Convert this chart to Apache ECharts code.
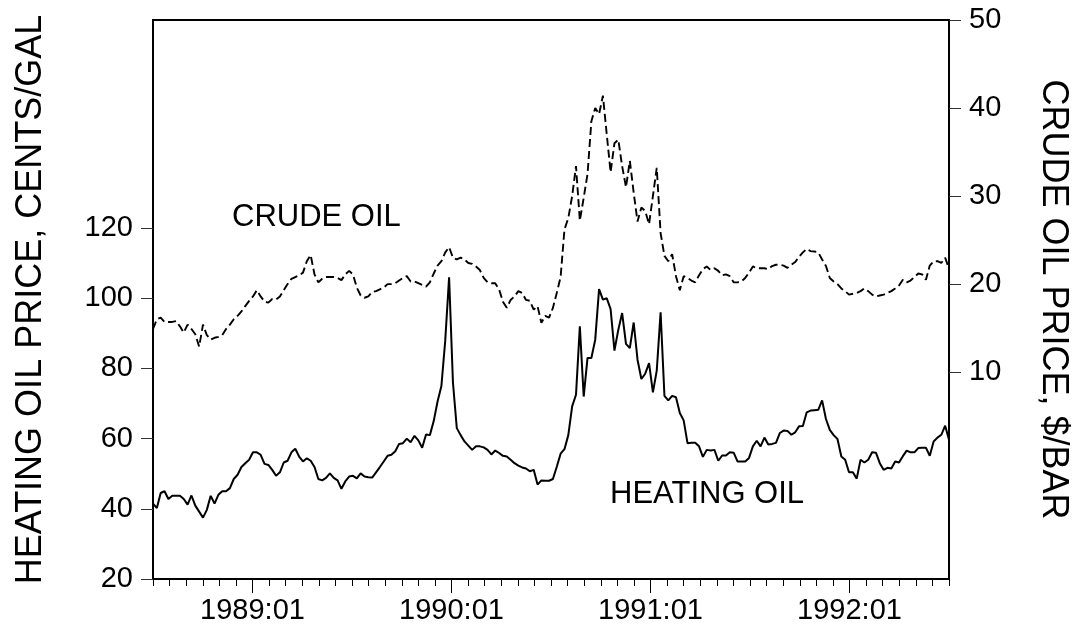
<!DOCTYPE html>
<html>
<head>
<meta charset="utf-8">
<script src="https://cdn.jsdelivr.net/npm/echarts@6/dist/echarts.min.js"></script>
<style>
  html, body { margin: 0; padding: 0; background: #fff; }
  #chart { width: 1082px; height: 630px; }
</style>
</head>
<body>
<div id="chart"></div>
<script>
// weekly observations, 1988:07 .. 1992:06 (x measured in months since 1988:01)
const firstMonth = 6;
const lastMonth = 54;

const heatingOil = [
  41.5, 40.2, 44.5, 45, 42.8, 43.7, 43.7, 43.7, 42.8, 41.2,
  43.8, 40.9, 39.2, 37.5, 39.7, 43.7, 41.5, 44, 45, 45,
  45.9, 48.5, 49.7, 51.9, 53, 54, 56.1, 56.1, 55.4, 52.8,
  52.5, 51.1, 49.4, 50.4, 53.2, 53.7, 56.1, 57.1, 54.9, 53.5,
  54.4, 53.7, 51.9, 48.5, 48.1, 48.8, 50.1, 48.8, 48.1, 45.7,
  47.8, 49.2, 49.4, 48.7, 50.1, 49.2, 49, 48.9, 50.4, 51.9,
  53.5, 55.1, 55.4, 56.4, 58.5, 58.7, 60, 59, 60.8, 59.5,
  57.4, 61.2, 61, 65, 70.6, 75, 88, 106, 76, 63,
  61, 59.2, 58, 56.8, 57.8, 57.8, 57.5, 56.8, 55.5, 56.6,
  55.9, 55.1, 54.9, 54, 53, 52.3, 51.8, 51.5, 50.7, 51.1,
  46.9, 48.1, 48, 48, 48.5, 52, 55.7, 57, 61, 69.2,
  72.5, 92, 72, 83, 83, 88.2, 102.6, 99.6, 100, 96.9,
  85.1, 91, 95.8, 87, 85.8, 93.1, 82.5, 77, 78.5, 81.5,
  73.2, 79.4, 96, 72.2, 70.9, 72.2, 71.8, 67.3, 65.2, 58.7,
  58.8, 58.8, 57.8, 54.8, 56.8, 56.6, 56.8, 53.7, 55.2, 55.2,
  56.1, 56, 53.5, 53.5, 53.5, 54.5, 57.8, 59.4, 57.8, 60.3,
  58.3, 58.5, 58.8, 61.6, 62.3, 62.2, 61.1, 61.8, 63.5, 63.6,
  67.5, 68, 68.1, 68.2, 70.9, 65.6, 62.5, 61, 59.9, 54.9,
  54, 50.4, 50.4, 48.6, 54, 53.2, 54, 56.1, 56, 53,
  51.1, 51.7, 51.5, 53.5, 53.2, 55, 56.6, 56.1, 56.1, 57.3,
  57.4, 57.4, 55.1, 59.2, 60.3, 61.1, 63.7, 59.7
];

const crudeOil = [
  14.9, 16.0, 16.2, 15.7, 15.7, 15.7, 15.8, 15.2, 14.5, 15.4,
  14.9, 14.3, 12.9, 15.4, 14.2, 13.7, 13.9, 14.0, 14.2, 14.9,
  15.4, 16.0, 16.4, 16.9, 17.5, 18.1, 18.6, 19.3, 18.6, 18.0,
  17.9, 18.3, 18.25, 18.6, 19.3, 20.0, 20.6, 20.8, 21.0, 21.3,
  22.6, 23.3, 21.1, 20.2, 20.6, 20.8, 20.8, 20.8, 20.7, 20.45,
  21.1, 21.5, 21.1, 19.6, 18.7, 18.45, 18.6, 19.1, 19.2, 19.4,
  19.6, 20.0, 20.0, 20.1, 20.4, 20.7, 20.9, 20.3, 20.3, 20.1,
  19.9, 19.7, 20.2, 21.2, 22.1, 22.6, 23.6, 24.2, 23.0, 22.8,
  23.0, 22.8, 22.4, 22.3, 22.0, 21.6, 20.7, 20.2, 20.1, 20.1,
  19.4, 18.0, 17.3, 18.2, 18.6, 19.2, 19.0, 18.2, 18.1, 17.1,
  17.5, 15.6, 16.4, 16.2, 17.3, 19.0, 20.8, 26.2, 27.5, 30.0,
  33.4, 27.2, 29.8, 32.5, 38.5, 40.0, 39.3, 41.4, 37.0, 32.7,
  36.0, 36.4, 33.4, 31.0, 34.0, 30.4, 27.1, 28.7, 28.3, 26.8,
  30.0, 33.2, 25.8, 23.2, 22.6, 23.4, 20.9, 19.3, 20.9, 20.7,
  20.4, 20.2, 21.0, 21.7, 22.0, 21.6, 21.8, 21.5, 21.0, 21.1,
  20.9, 20.2, 20.2, 20.3, 20.7, 21.3, 22.0, 21.8, 21.8, 21.8,
  21.7, 22.05, 22.2, 22.2, 22.1, 21.85, 22.2, 22.5, 23.1, 23.6,
  24.0, 23.75, 23.7, 23.6, 22.8, 22.05, 20.7, 20.3, 20.0, 19.5,
  19.2, 18.8, 18.9, 19.0, 19.2, 19.5, 19.2, 18.8, 18.6, 18.7,
  18.8, 19.0, 19.2, 19.5, 19.85, 20.5, 20.2, 20.4, 20.8, 21.2,
  21.1, 20.5, 22.1, 22.6, 22.6, 22.4, 23.0, 21.75
];

const yearTickMonths = [12, 24, 36, 48];
const yearTickLabels = ["1989:01", "1990:01", "1991:01", "1992:01"];
const leftTicks = [20, 40, 60, 80, 100, 120];
const rightTicks = [10, 20, 30, 40, 50];

const FONT = "'Liberation Sans', Arial, sans-serif";
const step = (lastMonth - firstMonth) / (heatingOil.length - 1);
const asPoints = (arr) => arr.map((v, i) => [firstMonth + i * step, v]);

const chart = echarts.init(document.getElementById("chart"), null, { renderer: "canvas" });

chart.setOption({
  animation: false,
  backgroundColor: "#fff",
  grid: {
    left: 153, right: 133, top: 20, bottom: 51,
    outerBoundsMode: "none", containLabel: false,
    show: true, borderColor: "#000", borderWidth: 2, backgroundColor: "transparent"
  },
  xAxis: [
    {
      type: "value", min: firstMonth, max: lastMonth, interval: 1,
      axisLine: { show: true, onZero: false, lineStyle: { color: "#000", width: 2 } },
      axisTick: { show: true, length: 7, lineStyle: { color: "#000", width: 1 } },
      axisLabel: { show: false },
      splitLine: { show: false }
    },
    {
      type: "value", position: "bottom", min: firstMonth, max: lastMonth,
      axisLine: { show: false, onZero: false },
      axisTick: { show: true, length: 14, customValues: yearTickMonths, lineStyle: { color: "#000", width: 1 } },
      axisLabel: {
        show: true, customValues: yearTickMonths, margin: 17,
        color: "#000", fontFamily: FONT, fontSize: 29,
        formatter: (v) => yearTickLabels[yearTickMonths.indexOf(Math.round(v))] || ""
      },
      splitLine: { show: false }
    }
  ],
  yAxis: [
    {
      type: "value", position: "left", min: 20, max: 179.3,
      name: "HEATING OIL PRICE, CENTS/GAL",
      nameLocation: "middle", nameRotate: 90, nameGap: 104,
      nameTextStyle: { color: "#000", fontFamily: FONT, fontSize: 36 },
      axisLine: { show: true, onZero: false, lineStyle: { color: "#000", width: 2 } },
      axisTick: { show: true, length: 12, customValues: leftTicks, lineStyle: { color: "#333", width: 1 } },
      axisLabel: { customValues: leftTicks, margin: 20, color: "#000", fontFamily: FONT, fontSize: 29 },
      splitLine: { show: false }
    },
    {
      type: "value", position: "right", min: -13.5, max: 50,
      name: "CRUDE OIL PRICE, $/BAR",
      nameLocation: "middle", nameRotate: -90, nameGap: 86,
      nameTextStyle: { color: "#000", fontFamily: FONT, fontSize: 36 },
      axisLine: { show: true, onZero: false, lineStyle: { color: "#000", width: 2 } },
      axisTick: { show: true, length: 12, customValues: rightTicks, lineStyle: { color: "#333", width: 1 } },
      axisLabel: { customValues: rightTicks, margin: 20, color: "#000", fontFamily: FONT, fontSize: 29 },
      splitLine: { show: false }
    }
  ],
  series: [
    {
      name: "HEATING OIL", type: "line", xAxisIndex: 0, yAxisIndex: 0,
      data: asPoints(heatingOil), showSymbol: false, symbol: "none",
      lineStyle: { color: "#000", width: 2 }
    },
    {
      name: "CRUDE OIL", type: "line", xAxisIndex: 0, yAxisIndex: 1,
      data: asPoints(crudeOil), showSymbol: false, symbol: "none",
      lineStyle: { color: "#000", width: 1.9, type: [8, 4] }
    }
  ],
  graphic: [
    { type: "text", left: 232, top: 202, style: { text: "CRUDE OIL", font: "31px " + FONT, fill: "#000" } },
    { type: "text", left: 610, top: 479, style: { text: "HEATING OIL", font: "31px " + FONT, fill: "#000" } }
  ]
});
</script>
</body>
</html>
